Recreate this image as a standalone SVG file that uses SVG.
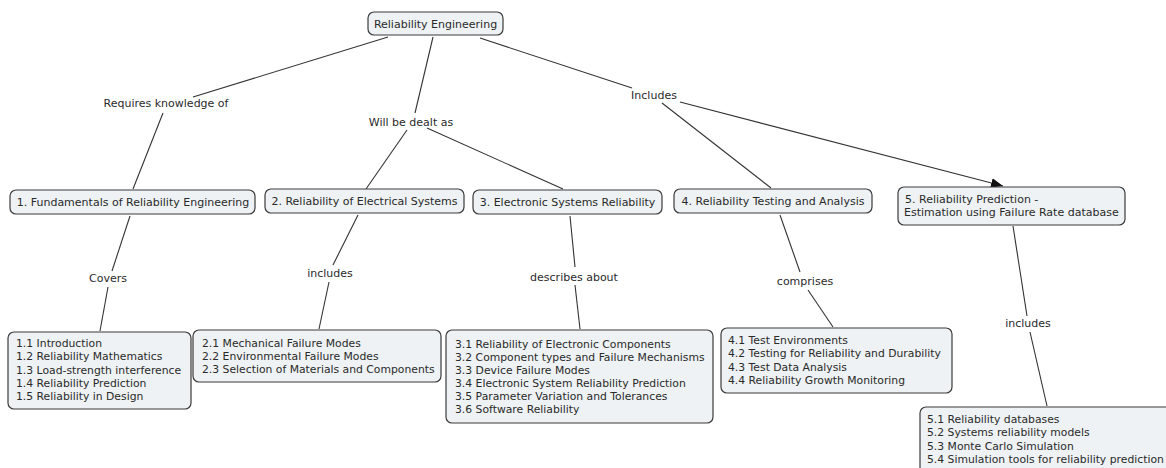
<svg xmlns="http://www.w3.org/2000/svg" width="1166" height="468" viewBox="0 0 1166 468">
<defs>
<style>
.box{fill:#eef2f4;stroke:#3a3a3a;stroke-width:1.2}
.t{font-family:"DejaVu Sans","Liberation Sans",sans-serif;font-size:11px;fill:#2a2a2a}
.s{font-size:10.8px}
.c{text-anchor:middle}
.ln{fill:none;stroke:#333;stroke-width:1.1}
</style>
<marker id="arr" viewBox="0 0 12 10" refX="12" refY="5" markerWidth="12" markerHeight="10" markerUnits="userSpaceOnUse" orient="auto">
<path d="M0,0 L12,5 L0,10 z" fill="#111"/>
</marker>
</defs>
<rect width="1166" height="468" fill="#fff"/>
<g id="connectors">
<line class="ln" x1="388" y1="37" x2="193" y2="97"/>
<line class="ln" x1="163" y1="113" x2="133" y2="189"/>
<line class="ln" x1="433" y1="37" x2="415" y2="113"/>
<line class="ln" x1="407" y1="130" x2="366" y2="189"/>
<line class="ln" x1="427" y1="128" x2="563" y2="189"/>
<line class="ln" x1="480" y1="38" x2="632" y2="88"/>
<line class="ln" x1="662" y1="103" x2="771" y2="188"/>
<line class="ln" x1="680" y1="102" x2="1003" y2="186" marker-end="url(#arr)"/>
<line class="ln" x1="130" y1="216" x2="112" y2="271"/>
<line class="ln" x1="108" y1="287" x2="100" y2="331"/>
<line class="ln" x1="358" y1="215" x2="333" y2="265"/>
<line class="ln" x1="329" y1="282" x2="319" y2="329"/>
<line class="ln" x1="570" y1="216" x2="575" y2="267"/>
<line class="ln" x1="575" y1="285" x2="580" y2="329"/>
<line class="ln" x1="780" y1="215" x2="800" y2="272"/>
<line class="ln" x1="808" y1="290" x2="833" y2="327"/>
<line class="ln" x1="1013" y1="226" x2="1027" y2="316"/>
<line class="ln" x1="1030" y1="332" x2="1047" y2="406"/>
<text class="t c" x="166" y="107">Requires knowledge of</text>
<text class="t c" x="411" y="126">Will be dealt as</text>
<text class="t c" x="654" y="99">Includes</text>
<text class="t c" x="108" y="282">Covers</text>
<text class="t c" x="330" y="277">includes</text>
<text class="t c" x="574" y="281">describes about</text>
<text class="t c" x="805" y="285">comprises</text>
<text class="t c" x="1028" y="327">includes</text>
</g>
<g id="root">
<rect class="box" x="368" y="12" width="135" height="23" rx="6"/>
<text class="t c" x="435.5" y="27.5">Reliability Engineering</text>
</g>
<g id="n1">
<rect class="box" x="10" y="190" width="245" height="24" rx="6"/>
<text class="t c" x="133" y="206">1. Fundamentals of Reliability Engineering</text>
</g>
<g id="n2">
<rect class="box" x="265" y="189" width="199" height="24" rx="6"/>
<text class="t c" x="364.5" y="205">2. Reliability of Electrical Systems</text>
</g>
<g id="n3">
<rect class="box" x="473" y="190" width="189" height="24" rx="6"/>
<text class="t c" x="567.5" y="206">3. Electronic Systems Reliability</text>
</g>
<g id="n4">
<rect class="box" x="674" y="189" width="198" height="24" rx="6"/>
<text class="t c" x="773" y="205">4. Reliability Testing and Analysis</text>
</g>
<g id="n5">
<rect class="box" x="898" y="187" width="227" height="38" rx="6"/>
<text class="t" x="905" y="203">5. Reliability Prediction -</text>
<text class="t" x="904" y="216">Estimation using Failure Rate database</text>
</g>
<g id="n1x">
<rect class="box" x="8" y="332" width="183" height="77" rx="6"/>
<text class="t s" x="16" y="347">1.1 Introduction</text>
<text class="t s" x="16" y="360">1.2 Reliability Mathematics</text>
<text class="t s" x="16" y="374">1.3 Load-strength interference</text>
<text class="t s" x="16" y="387">1.4 Reliability Prediction</text>
<text class="t s" x="16" y="400">1.5 Reliability in Design</text>
</g>
<g id="n2x">
<rect class="box" x="193" y="330" width="248" height="52" rx="6"/>
<text class="t s" x="202" y="347">2.1 Mechanical Failure Modes</text>
<text class="t s" x="202" y="360">2.2 Environmental Failure Modes</text>
<text class="t s" x="202" y="373">2.3 Selection of Materials and Components</text>
</g>
<g id="n3x">
<rect class="box" x="446" y="330" width="267" height="93" rx="6"/>
<text class="t s" x="455" y="348">3.1 Reliability of Electronic Components</text>
<text class="t s" x="455" y="361">3.2 Component types and Failure Mechanisms</text>
<text class="t s" x="455" y="374">3.3 Device Failure Modes</text>
<text class="t s" x="455" y="387">3.4 Electronic System Reliability Prediction</text>
<text class="t s" x="455" y="400">3.5 Parameter Variation and Tolerances</text>
<text class="t s" x="455" y="413">3.6 Software Reliability</text>
</g>
<g id="n4x">
<rect class="box" x="721" y="328" width="231" height="65" rx="6"/>
<text class="t s" x="728" y="344">4.1 Test Environments</text>
<text class="t s" x="728" y="357">4.2 Testing for Reliability and Durability</text>
<text class="t s" x="728" y="371">4.3 Test Data Analysis</text>
<text class="t s" x="728" y="384">4.4 Reliability Growth Monitoring</text>
</g>
<g id="n5x">
<rect class="box" x="920" y="407" width="260" height="70" rx="6"/>
<text class="t s" x="927" y="423">5.1 Reliability databases</text>
<text class="t s" x="927" y="436">5.2 Systems reliability models</text>
<text class="t s" x="927" y="450">5.3 Monte Carlo Simulation</text>
<text class="t s" x="927" y="463">5.4 Simulation tools for reliability prediction</text>
</g>
</svg>
